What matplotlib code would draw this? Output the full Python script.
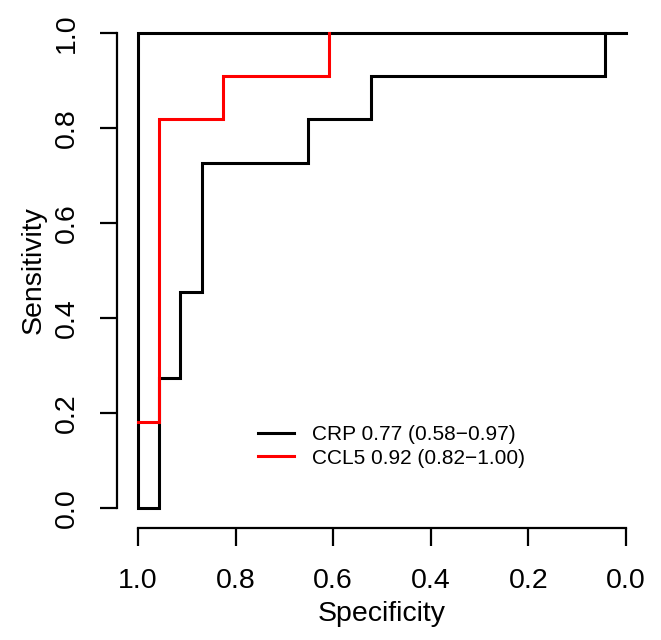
import matplotlib
matplotlib.use("Agg")
import matplotlib.pyplot as plt
from matplotlib.lines import Line2D

plt.rcParams['font.family'] = ['Liberation Sans', 'DejaVu Sans']

# CRP ROC curve (specificity, sensitivity)
crp_spec = [0.0, 1.0, 1.0, 22/23, 22/23, 21/23, 21/23, 20/23, 20/23, 15/23, 15/23,
            12/23, 12/23, 1/23, 1/23]
crp_sens = [1.0, 1.0, 0.0, 0.0, 3/11, 3/11, 5/11, 5/11, 8/11, 8/11, 9/11,
            9/11, 10/11, 10/11, 1.0]
# CCL5 ROC curve
ccl5_spec = [1.0, 22/23, 22/23, 19/23, 19/23, 14/23, 14/23]
ccl5_sens = [2/11, 2/11, 9/11, 9/11, 10/11, 10/11, 1.0]

labels = ["CRP 0.77 (0.58\u22120.97)", "CCL5 0.92 (0.82\u22121.00)"]
colors = ["black", "#ff0000"]
xticks = [1.0, 0.8, 0.6, 0.4, 0.2, 0.0]
yticks = [0.0, 0.2, 0.4, 0.6, 0.8, 1.0]

W, H = 661, 640
fig = plt.figure(figsize=(W/100, H/100), dpi=100)
ax = fig.add_axes([138/W, 1-508/H, 488/W, 475/H])

ax.plot(crp_spec, crp_sens, color=colors[0], lw=2.2, clip_on=False, solid_joinstyle='miter')
ax.plot(ccl5_spec, ccl5_sens, color=colors[1], lw=2.2, clip_on=False, solid_joinstyle='miter')

ax.set_xlim(1, 0)
ax.set_ylim(0, 1)
for s in ['top', 'right']:
    ax.spines[s].set_visible(False)
ax.spines['left'].set_position(('outward', 21*0.72))
ax.spines['bottom'].set_position(('outward', 20*0.72))
ax.spines['left'].set_bounds(0, 1)
ax.spines['bottom'].set_bounds(1, 0)
for s in ['left', 'bottom']:
    ax.spines[s].set_linewidth(1.6)
    ax.spines[s].set_capstyle('projecting')
ax.set_xticks(xticks)
ax.set_yticks(yticks)
ax.set_xticklabels([f"{v:.1f}" for v in xticks])
ax.set_yticklabels([f"{v:.1f}" for v in yticks], rotation=90, va='center')
ax.tick_params(axis='both', direction='out', length=12.6, width=1.6, labelsize=20.5)
ax.tick_params(axis='x', pad=16)
ax.tick_params(axis='y', pad=14)
ax.set_xlabel("Specificity", fontsize=20.5, labelpad=5)
ax.set_ylabel("Sensitivity", fontsize=20.5, labelpad=5)

handles = [Line2D([], [], color=c, lw=2.2) for c in colors]
ax.legend(handles, labels, loc='upper left', bbox_to_anchor=(258/W, 1-425/H),
          bbox_transform=fig.transFigure, frameon=False, borderpad=0, borderaxespad=0,
          fontsize=15, handlelength=1.75, handletextpad=0.85, labelspacing=0.22)

fig.savefig("out.png", dpi=100)
